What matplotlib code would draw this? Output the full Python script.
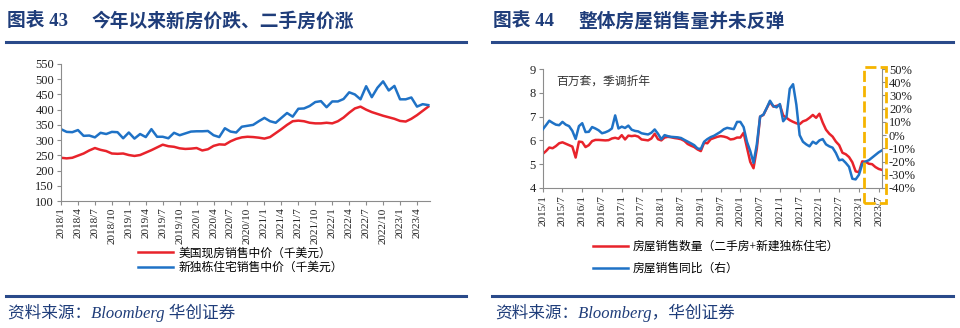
import numpy as np
import pandas as pd
import matplotlib
matplotlib.use("Agg")
import matplotlib.pyplot as plt
from matplotlib.lines import Line2D
from matplotlib.patches import Rectangle

plt.rcParams["font.family"] = ["Liberation Serif", "Noto Sans CJK SC"]
plt.rcParams["axes.unicode_minus"] = False

# 图表43：美国房价（千美元），2018/1 - 2023/6
priceMonths = pd.date_range("2018-01-01", "2023-06-01", freq="MS")
existingPrice = [242, 240, 242, 249, 256, 266, 274, 268, 264, 256, 255, 256,
                 251, 248, 251, 259, 267, 276, 285, 280, 278, 273, 271, 272,
                 274, 266, 270, 281, 286, 285, 296, 304, 309, 311, 310, 308,
                 305, 310, 323, 336, 350, 362, 364, 362, 357, 355, 355, 357,
                 355, 362, 374, 390, 404, 410, 400, 392, 386, 380, 375, 370,
                 363, 361, 370, 382, 396, 410]
newPrice = [336, 327, 326, 333, 314, 315, 309, 324, 320, 327, 326, 306,
            325, 305, 320, 310, 336, 311, 311, 306, 324, 316, 322, 328,
            329, 329, 330, 316, 310, 339, 328, 325, 344, 347, 350, 362,
            373, 362, 357, 373, 389, 377, 403, 404, 412, 425, 428, 408,
            427, 427, 435, 457, 450, 434, 477, 441, 472, 493, 463, 478,
            434, 434, 440, 410, 418, 415]
priceTicks = list(range(100, 551, 50))

# 图表44：房屋销售（百万套，季调折年）及同比，2015/1 - 2023/8
salesMonths = pd.date_range("2015-01-01", "2023-08-01", freq="MS")
salesVolume = [5.43, 5.55, 5.70, 5.67, 5.76, 5.88, 5.92, 5.86, 5.80, 5.74, 5.28, 5.95,
               5.93, 5.72, 5.80, 5.97, 6.02, 6.02, 6.01, 6.00, 6.01, 6.08, 6.11, 6.07,
               6.22, 6.04, 6.20, 6.18, 6.20, 6.16, 6.04, 6.02, 6.00, 6.08, 6.28, 6.05,
               6.00, 6.12, 6.15, 6.13, 6.10, 6.08, 6.05, 5.98, 5.85, 5.78, 5.72, 5.62,
               5.55, 5.90, 5.88, 6.05, 6.10, 6.15, 6.18, 6.16, 6.12, 6.04, 6.06, 6.12,
               6.12, 6.32, 5.70, 5.10, 4.83, 5.65, 7.00, 7.07, 7.35, 7.62, 7.42, 7.45,
               7.49, 7.05, 6.95, 6.85, 6.78, 6.72, 6.68, 6.80, 6.85, 6.95, 7.07, 6.95,
               7.12, 6.75, 6.45, 6.28, 6.16, 5.95, 5.80, 5.48, 5.42, 5.30, 5.08, 4.70,
               4.66, 5.12, 5.10, 5.02, 5.00, 4.88, 4.80, 4.76]
salesYoY = [4.3, 7.5, 10.9, 9.3, 7.9, 7.5, 10.0, 7.9, 6.8, 3.2, -2.9, 6.8,
            9.0, 2.3, 2.5, 6.1, 5.0, 3.6, 1.4, 2.1, 3.2, 5.0, 14.9, 5.0,
            6.4, 5.4, 7.2, 4.1, 3.2, 2.8, 1.4, 0.9, 0.5, 1.8, 4.3, 1.0,
            -3.1, 0.0, -0.8, -1.3, -1.5, -1.7, -2.2, -3.6, -4.9, -6.2, -7.6, -10.1,
            -10.5, -5.0, -3.0, -1.5, -0.5, 1.0, 2.5, 4.5, 5.5, 5.0, 4.5, 10.0,
            10.0, 6.0, -5.0, -12.0, -21.0, -7.0, 14.0, 15.5, 20.5, 26.0, 22.0, 21.0,
            23.5, 10.5, 13.5, 35.0, 38.5, 23.0, 0.0, -5.0, -7.0, -8.5, -5.0, -6.5,
            -4.0, -3.0, -7.0, -8.5, -9.5, -13.5, -19.0, -18.5, -21.0, -24.0, -33.0, -33.5,
            -30.0, -22.0, -20.0, -19.0, -17.0, -15.0, -13.0, -11.5]
volumeTicks = [4, 5, 6, 7, 8, 9]
yoyTicks = list(range(-40, 51, 10))

red = "#e8232b"
blue = "#1f72c6"
navy = "#1f3d7a"
grey = "#8c8c8c"
W, H = 960, 328


def fx(px):
    return px / W


def fy(py):
    return 1 - py / H


def style_axis(ax, right=False):
    for s in ["top", "right", "left", "bottom"]:
        ax.spines[s].set_visible(False)
    ax.spines["bottom"].set_visible(True)
    ax.spines["right" if right else "left"].set_visible(True)
    for s in ax.spines.values():
        s.set_color(grey)
        s.set_linewidth(0.8)
    ax.tick_params(colors=grey, labelcolor="#222222", length=3, width=0.8,
                   labelsize=8, pad=2)


fig = plt.figure(figsize=(9.6, 3.28), dpi=100)

# 标题与分隔线
for x0, num, x1, text in [(7, "43", 92, "今年以来新房价跌、二手房价涨"),
                          (493, "44", 578, "整体房屋销售量并未反弹")]:
    fig.text(fx(x0), fy(21), "图表 " + num, fontsize=13.5, fontweight="bold",
             color=navy, va="center")
    fig.text(fx(x1), fy(21), text, fontsize=13.5, fontweight="bold",
             color=navy, va="center")
for x0, x1 in [(6, 466), (492, 953)]:
    for yy in [42, 295.5]:
        fig.add_artist(Line2D([fx(x0), fx(x1)], [fy(yy), fy(yy)],
                              transform=fig.transFigure, color="#2a4a8a", lw=2.2))

fig.text(fx(8), fy(313), "资料来源：Bloomberg 华创证券", fontsize=12,
         style="italic", color=navy, va="center")
fig.text(fx(495), fy(313), "资料来源：Bloomberg，华创证券", fontsize=12,
         style="italic", color=navy, va="center")

# 左图：房价
ax1 = fig.add_axes([fx(61), fy(201), fx(430) - fx(61), fy(64) - fy(201)])
px = np.arange(len(priceMonths))
l1, = ax1.plot(px, existingPrice, color=red, lw=1.8)
l2, = ax1.plot(px, newPrice, color=blue, lw=1.8)
ax1.set_ylim(100, 550)
ax1.set_yticks(priceTicks)
ax1.set_xlim(0, len(priceMonths) - 0.7)
ax1.set_xticks(px[::3])
ax1.set_xticklabels([f"{d.year}/{d.month}" for d in priceMonths[::3]],
                    rotation=90, fontsize=6.6)
style_axis(ax1)
ax1.tick_params(axis="y", labelsize=9)
ax1.tick_params(axis="x", pad=1.5)

fig.legend([l1, l2], ["美国现房销售中价（千美元）", "新独栋住宅销售中价（千美元）"],
           loc="upper left", bbox_to_anchor=(fx(138), fy(247.5)), frameon=False,
           fontsize=8.5, handlelength=3.0, handletextpad=0.4,
           labelspacing=0.22, borderpad=0, borderaxespad=0)

# 右图：销售量与同比
ax2 = fig.add_axes([fx(542.7), fy(188), fx(882) - fx(542.7), fy(69) - fy(188)])
sx = np.arange(len(salesMonths))
l3, = ax2.plot(sx, salesVolume, color=red, lw=1.8)
ax2.set_ylim(4, 9)
ax2.set_yticks(volumeTicks)
ax2.set_xlim(0, len(salesMonths) - 1)
ax2.set_xticks(sx[::6])
ax2.set_xticklabels([f"{d.year}/{d.month}" for d in salesMonths[::6]],
                    rotation=90, fontsize=7.5)
style_axis(ax2)
ax2.tick_params(axis="y", labelsize=9)

ax2r = ax2.twinx()
l4, = ax2r.plot(sx, salesYoY, color=blue, lw=1.8)
ax2r.set_ylim(-40, 50)
ax2r.set_yticks(yoyTicks)
ax2r.set_yticklabels([f"{v}%" for v in yoyTicks])
style_axis(ax2r, right=True)
ax2r.spines["bottom"].set_visible(False)
ax2r.tick_params(axis="y", labelsize=9)

ax2.text(0.04, 0.95, "百万套，季调折年", transform=ax2.transAxes, fontsize=8.5,
         family="Noto Sans CJK SC", color="#333333", va="top")

fig.legend([l3, l4], ["房屋销售数量（二手房+新建独栋住宅）", "房屋销售同比（右）"],
           loc="upper left", bbox_to_anchor=(fx(593), fy(241)), frameon=False,
           fontsize=8.5, handlelength=3.0, handletextpad=0.4,
           labelspacing=0.86, borderpad=0, borderaxespad=0)

# 近期区间框
fig.add_artist(Rectangle((fx(864), fy(203)), fx(886) - fx(864), fy(67) - fy(203),
                         transform=fig.transFigure, fill=False, edgecolor="#f5b400",
                         lw=2, linestyle=(0, (4, 1.5))))

fig.savefig("out.png", dpi=100)
